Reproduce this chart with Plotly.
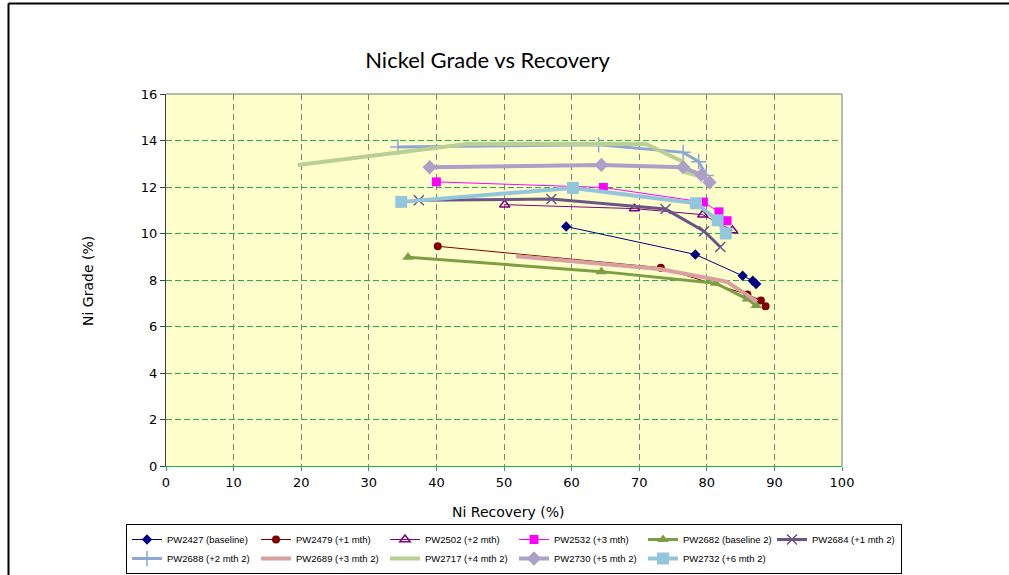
import plotly.graph_objects as go

# ---------------- data ----------------
names = ["PW2427 (baseline)", "PW2479 (+1 mth)", "PW2502 (+2 mth)", "PW2532 (+3 mth)",
         "PW2682 (baseline 2)", "PW2684 (+1 mth 2)", "PW2688 (+2 mth 2)", "PW2689 (+3 mth 2)",
         "PW2717 (+4 mth 2)", "PW2730 (+5 mth 2)", "PW2732 (+6 mth 2)"]

pw2427_x = [59.2, 78.3, 85.3, 86.8, 87.3]
pw2427_y = [10.3, 9.1, 8.18, 7.97, 7.83]

pw2479_x = [40.2, 73.2, 86.0, 88.0, 88.7]
pw2479_y = [9.45, 8.53, 7.38, 7.12, 6.87]

pw2502_x = [50.1, 69.3, 79.4, 83.8]
pw2502_y = [11.24, 11.07, 10.81, 10.13]

pw2532_x = [40.0, 64.7, 79.5, 81.8, 83.0]
pw2532_y = [12.22, 11.98, 11.35, 10.93, 10.55]

pw2682_x = [35.8, 64.4, 81.3, 86.0, 87.3]
pw2682_y = [8.98, 8.36, 7.86, 7.18, 6.9]

pw2684_x = [37.4, 57.0, 73.9, 79.6, 82.0]
pw2684_y = [11.43, 11.48, 11.05, 10.1, 9.42]

pw2688_x = [34.3, 64.0, 76.5, 78.8, 79.9]
pw2688_y = [13.72, 13.82, 13.49, 13.09, 12.5]

pw2689_x = [51.8, 73.0, 81.3, 83.0, 86.0, 87.4]
pw2689_y = [9.02, 8.47, 8.02, 7.92, 7.35, 7.06]

pw2717_x = [19.5, 44.5, 71.0, 76.4, 77.0, 78.5]
pw2717_y = [12.95, 13.85, 13.85, 13.1, 12.62, 12.5]

pw2730_x = [39.0, 64.4, 76.5, 79.2, 80.4]
pw2730_y = [12.85, 12.95, 12.85, 12.52, 12.2]

pw2732_x = [34.8, 60.2, 78.4, 81.6, 82.8]
pw2732_y = [11.36, 11.96, 11.3, 10.57, 10.0]

x_ticks = list(range(0, 101, 10))
y_ticks = list(range(0, 17, 2))

# ---------------- styles ----------------
series = [
    (pw2427_x, pw2427_y, "#000080", 1, "diamond", 8, "lines+markers"),
    (pw2479_x, pw2479_y, "#800000", 1, "circle", 8, "lines+markers"),
    (pw2502_x, pw2502_y, "#800080", 1, "triangle-up-open", 9, "lines+markers"),
    (pw2532_x, pw2532_y, "#FF00FF", 1, "square", 9, "lines+markers"),
    (pw2682_x, pw2682_y, "#7E9E44", 3, "triangle-up", 10, "lines+markers"),
    (pw2684_x, pw2684_y, "#6A5585", 3, "x-thin-open", 10, "lines+markers"),
    (pw2688_x, pw2688_y, "#8CA7D6", 3, "cross-thin-open", 11, "lines+markers"),
    (pw2689_x, pw2689_y, "#D9A0A0", 4, "circle", 1, "lines"),
    (pw2717_x, pw2717_y, "#B9CF93", 4, "circle", 1, "lines"),
    (pw2730_x, pw2730_y, "#ACA0C8", 4, "diamond", 11, "lines+markers"),
    (pw2732_x, pw2732_y, "#93C6DA", 4, "square", 12, "lines+markers"),
]

fig = go.Figure()
for name, (xs, ys, col, lw, sym, ms, mode) in zip(names, series):
    mk = dict(symbol=sym, size=ms, color=col)
    if "open" in sym:
        mk["line"] = dict(color=col, width=1.5)
    fig.add_trace(go.Scatter(x=xs, y=ys, name=name, mode=mode,
                             line=dict(color=col, width=lw), marker=mk))

# body margin is reset to 0 by the post script, so figure px == screen px
W, H = 1009, 575
L, R = 166, W - 842
T, B = 94, H - 466
PW = W - L - R
PH = H - T - B

def px_x(p):
    return (p - L) / PW

def px_y(p):
    return (H - B - p) / PH

tick_font = dict(family="DejaVu Sans", size=13, color="#000000")

fig.update_layout(
    width=W, height=H,
    margin=dict(l=L, r=R, t=T, b=B, pad=0, autoexpand=False),
    paper_bgcolor="#FFFFFF",
    plot_bgcolor="#FFFFCC",
    showlegend=True,
    title=dict(text="Nickel Grade vs Recovery", x=487.5 / W, xref="container",
               xanchor="center", y=1 - 60 / H, yref="container", yanchor="middle",
               font=dict(family="Lato", size=22, color="#000000")),
    xaxis=dict(range=[0, 100], tickvals=x_ticks, showgrid=True, gridcolor="#808080",
               griddash="6px,4px", gridwidth=1, zeroline=False, showline=True,
               linecolor="#22B14C", linewidth=1, ticks="outside", tickcolor="#22B14C",
               ticklen=4, tickfont=tick_font),
    yaxis=dict(range=[0, 16], tickvals=y_ticks, showgrid=True, gridcolor="#22B14C",
               griddash="6px,3px", gridwidth=1, zeroline=False, showline=True,
               linecolor="#404040", linewidth=1, ticks="outside", tickcolor="#404040",
               ticklen=5, tickfont=tick_font),
    legend=dict(orientation="h", x=px_x(126), y=px_y(524), xanchor="left", yanchor="top",
                bgcolor="#FFFFFF", bordercolor="#000000", borderwidth=1,
                font=dict(family="Liberation Sans", size=9.5, color="#000000"),
                itemwidth=30, entrywidth=84, entrywidthmode="pixels",
                tracegroupgap=0, traceorder="normal"),
    shapes=[
        dict(type="line", xref="paper", yref="paper", x0=0, x1=1, y0=1, y1=1,
             line=dict(color="#A0A0A0", width=1.5)),
        dict(type="line", xref="paper", yref="paper", x0=1, x1=1, y0=0, y1=1,
             line=dict(color="#A0A0A0", width=1.5)),
        # outer chart frame: left and top edges (right/bottom fall outside the picture)
        dict(type="line", xref="paper", yref="paper", x0=px_x(8.5), x1=px_x(1009),
             y0=px_y(3.5), y1=px_y(3.5), line=dict(color="#000000", width=2), layer="above"),
        dict(type="line", xref="paper", yref="paper", x0=px_x(8.5), x1=px_x(8.5),
             y0=px_y(575), y1=px_y(3.5), line=dict(color="#000000", width=2), layer="above"),
    ],
    annotations=[
        dict(text="Ni Recovery (%)", xref="paper", yref="paper", x=px_x(508), y=px_y(512),
             xanchor="center", yanchor="middle", showarrow=False,
             font=dict(family="DejaVu Sans", size=14, color="#000000")),
        dict(text="Ni Grade (%)", xref="paper", yref="paper", x=px_x(88), y=px_y(281),
             xanchor="center", yanchor="middle", showarrow=False, textangle=-90,
             font=dict(family="DejaVu Sans", size=14, color="#000000")),
    ],
)

fig.write_html("out.html",
               config={"displayModeBar": False},
               post_script="document.body.style.margin='0px';"
                           "document.body.style.overflow='hidden';")
